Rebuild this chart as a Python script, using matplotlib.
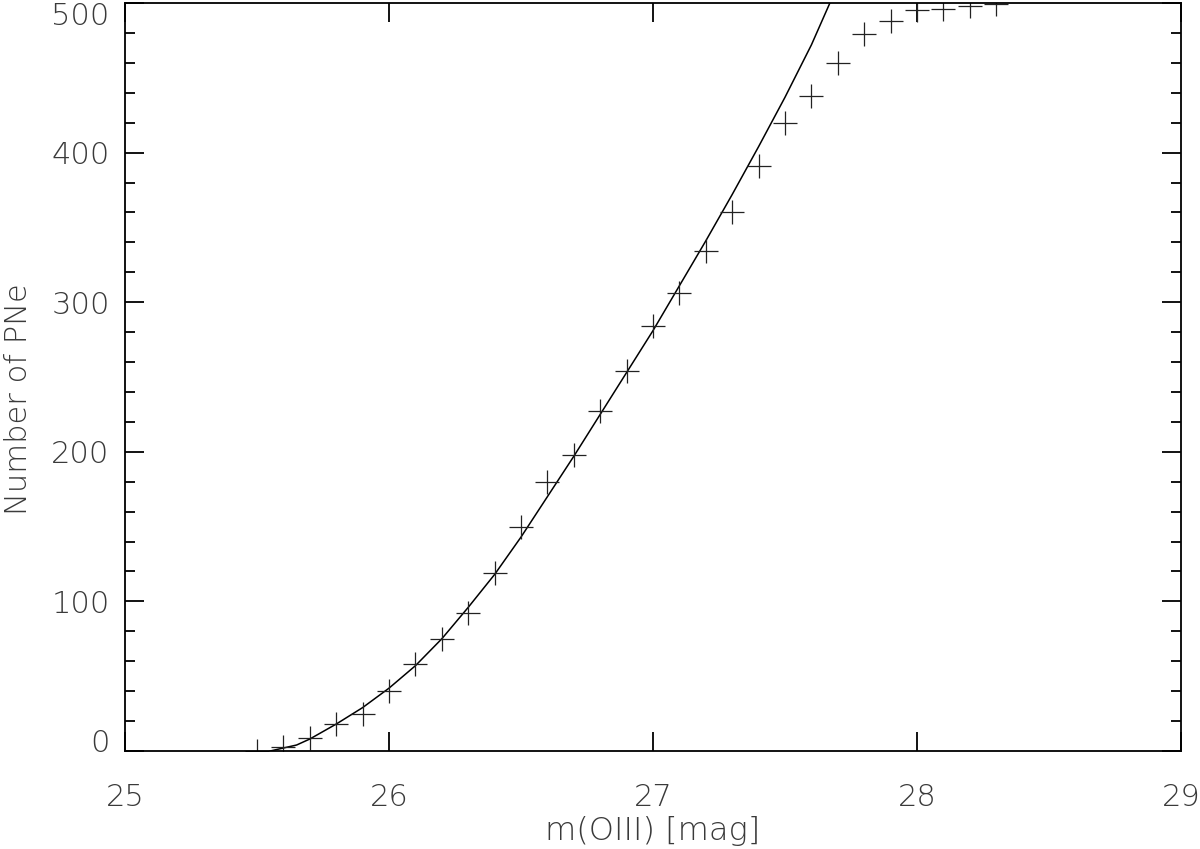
import matplotlib
matplotlib.use("Agg")
import matplotlib.pyplot as plt
from matplotlib.ticker import MultipleLocator
import matplotlib.transforms as mtransforms

# Observed cumulative counts (+ markers)
mag_obs = [25.5, 25.6, 25.7, 25.8, 25.9, 26.0, 26.1, 26.2, 26.3, 26.4, 26.5,
           26.6, 26.7, 26.8, 26.9, 27.0, 27.1, 27.2, 27.3, 27.4, 27.5, 27.6,
           27.7, 27.8, 27.9, 28.0, 28.1, 28.2, 28.3]
n_obs = [0, 3, 9, 18, 25, 40, 58, 75, 92, 119, 150, 180, 198, 227, 254, 284,
         306, 334, 360, 391, 420, 438, 460, 479, 488, 495, 496, 498, 499]

# Model curve (solid line)
mag_fit = [25.55, 25.6, 25.65, 25.7, 25.8, 25.9, 26.0, 26.1, 26.2, 26.3, 26.4,
           26.5, 26.6, 26.7, 26.8, 26.9, 27.0, 27.1, 27.2, 27.3, 27.4, 27.5,
           27.6, 27.67]
n_fit = [0, 2, 4, 8, 18, 29, 42, 57, 75, 96, 118, 143, 170, 197, 225, 253,
         281, 311, 341, 372, 404, 437, 472, 500]

plt.rcParams['font.family'] = ['DejaVu Sans']
plt.rcParams['font.weight'] = 'light'
txt_color = '#3a3a3a'
fs = 22

fig = plt.figure(figsize=(12, 8.49), dpi=100)
ax = fig.add_axes([125/1200, 1 - 751/849, (1181-125)/1200, (751-3)/849])

ax.plot(mag_fit, n_fit, color='black', lw=1.1)
ax.plot(mag_obs, n_obs, linestyle='none', marker='+', markersize=17,
        markeredgewidth=0.9, color='#222222')

ax.set_xlim(25, 29)
ax.set_ylim(0, 500)
ax.xaxis.set_major_locator(MultipleLocator(1))
ax.yaxis.set_major_locator(MultipleLocator(100))
ax.yaxis.set_minor_locator(MultipleLocator(20))

for s in ax.spines.values():
    s.set_linewidth(1.3)
ax.tick_params(which='both', direction='in', top=True, right=True,
               colors='black', labelcolor=txt_color, labelsize=fs)
ax.tick_params(which='major', length=14, width=1.3)
ax.tick_params(which='minor', length=7, width=1.3)
ax.tick_params(axis='x', pad=23)
ax.tick_params(axis='y', pad=11)

ax.set_xlabel('m(OIII) [mag]', fontsize=fs + 1, color=txt_color, labelpad=3,
              fontweight='light')
ax.set_ylabel('Number of PNe', fontsize=fs, color=txt_color,
              fontweight='light')
ax.yaxis.set_label_coords(-0.0875, 0.47)

fig.canvas.draw()
# keep the end labels of the y axis inside the frame, as in the reference
ylabels = ax.get_yticklabels()
for lab in ylabels:
    if lab.get_text() == '0':
        lab.set_transform(lab.get_transform() +
                          mtransforms.ScaledTranslation(0, 11/100, fig.dpi_scale_trans))
    if lab.get_text() == '500':
        lab.set_transform(lab.get_transform() +
                          mtransforms.ScaledTranslation(0, -11/100, fig.dpi_scale_trans))

fig.savefig('out.png', dpi=100)
